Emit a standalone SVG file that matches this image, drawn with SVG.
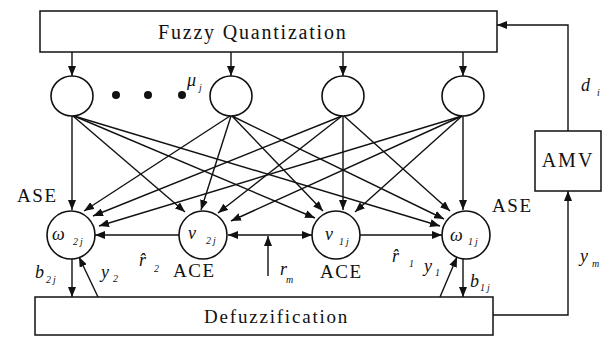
<svg xmlns="http://www.w3.org/2000/svg" width="614" height="340" viewBox="0 0 614 340">
  <style>
    .box { fill: none; stroke: #111; stroke-width: 1.5; }
    .node { fill: #fff; stroke: #111; stroke-width: 1.6; }
    .ln { fill: none; stroke: #111; stroke-width: 1.4; }
    .arr { marker-end: url(#head); }
    .txt { font-family: "Liberation Serif", "Times New Roman", serif; fill: #111; }
    .title { font-size: 20px; letter-spacing: 1.8px; }
    .tag { font-size: 19px; letter-spacing: 1.6px; }
    .var { font-style: italic; font-size: 18px; }
    .sub { font-style: italic; font-size: 10px; letter-spacing: 2px; }
  </style>
  <defs>
    <marker id="head" markerUnits="userSpaceOnUse" markerWidth="10" markerHeight="8" refX="10" refY="4" orient="auto">
      <path d="M0,0 L10,4 L0,8 z" fill="#111"/>
    </marker>
    <marker id="tail" markerUnits="userSpaceOnUse" markerWidth="10" markerHeight="8" refX="0" refY="4" orient="auto">
      <path d="M10,0 L0,4 L10,8 z" fill="#111"/>
    </marker>
  </defs>

  <rect width="614" height="340" fill="#fff"/>

  <!-- blocks -->
  <g id="fuzzy-quantization">
    <rect class="box" x="40" y="11" width="457" height="41"/>
    <text class="txt title" x="158" y="39">Fuzzy Quantization</text>
  </g>
  <g id="defuzzification">
    <rect class="box" x="35" y="297" width="458" height="38"/>
    <text class="txt title" x="204" y="323" style="font-size:19px">Defuzzification</text>
  </g>
  <g id="amv">
    <rect class="box" x="535" y="131" width="66" height="60"/>
    <text class="txt" x="568" y="167" text-anchor="middle" style="font-size:20px;letter-spacing:2px">AMV</text>
  </g>

  <!-- input membership nodes -->
  <g id="mu-1"><ellipse class="node" cx="72" cy="96" rx="21" ry="20"/></g>
  <g id="mu-ellipsis">
    <circle cx="116" cy="95" r="4" fill="#111"/>
    <circle cx="148" cy="95" r="4" fill="#111"/>
    <circle cx="182" cy="95" r="4" fill="#111"/>
  </g>
  <g id="mu-j">
    <ellipse class="node" cx="231" cy="96" rx="21" ry="20"/>
    <text class="txt var" x="187" y="86">μ</text>
    <text class="txt sub" x="199" y="91">j</text>
  </g>
  <g id="mu-3"><ellipse class="node" cx="343" cy="96" rx="21" ry="20"/></g>
  <g id="mu-4"><ellipse class="node" cx="463" cy="96" rx="21" ry="20"/></g>

  <!-- critic / actor nodes -->
  <g id="omega-2j">
    <circle class="node" cx="71" cy="235" r="24"/>
    <text class="txt var" x="52" y="240">ω</text>
    <text class="txt sub" x="73" y="245">2j</text>
    <text class="txt tag" x="17" y="202">ASE</text>
  </g>
  <g id="v-2j">
    <circle class="node" cx="203" cy="235" r="24"/>
    <text class="txt var" x="188" y="239">v</text>
    <text class="txt sub" x="206" y="244">2j</text>
    <text class="txt tag" x="173" y="277">ACE</text>
  </g>
  <g id="v-1j">
    <circle class="node" cx="336" cy="235" r="24"/>
    <text class="txt var" x="325" y="240">v</text>
    <text class="txt sub" x="339" y="245">1j</text>
    <text class="txt tag" x="320" y="278">ACE</text>
  </g>
  <g id="omega-1j">
    <circle class="node" cx="466" cy="235" r="24"/>
    <text class="txt var" x="450" y="241">ω</text>
    <text class="txt sub" x="468" y="245">1j</text>
    <text class="txt tag" x="492" y="212">ASE</text>
  </g>

  <!-- connectors -->
  <g id="connectors">
    <!-- quantization outputs -->
    <line class="ln arr" x1="72" y1="52" x2="72" y2="76"/>
    <line class="ln arr" x1="231" y1="52" x2="231" y2="76"/>
    <line class="ln arr" x1="343" y1="52" x2="343" y2="76"/>
    <line class="ln arr" x1="463" y1="52" x2="463" y2="76"/>

    <!-- from first membership node -->
    <line class="ln arr" x1="72" y1="116" x2="72" y2="210"/>
    <line class="ln arr" x1="73" y1="116" x2="185" y2="212"/>
    <line class="ln arr" x1="74" y1="116" x2="315" y2="218"/>
    <line class="ln arr" x1="74" y1="116" x2="440" y2="226"/>

    <!-- from mu_j -->
    <line class="ln arr" x1="230" y1="116" x2="84" y2="211"/>
    <line class="ln arr" x1="231" y1="116" x2="201" y2="210"/>
    <line class="ln arr" x1="232" y1="116" x2="323" y2="211"/>
    <line class="ln arr" x1="232" y1="116" x2="444" y2="219"/>

    <!-- from third membership node -->
    <line class="ln arr" x1="342" y1="116" x2="93" y2="216"/>
    <line class="ln arr" x1="342" y1="116" x2="218" y2="213"/>
    <line class="ln arr" x1="343" y1="116" x2="343" y2="210"/>
    <line class="ln arr" x1="344" y1="116" x2="450" y2="211"/>

    <!-- from fourth membership node -->
    <line class="ln arr" x1="462" y1="116" x2="99" y2="226"/>
    <line class="ln arr" x1="462" y1="116" x2="231" y2="221"/>
    <line class="ln arr" x1="462" y1="116" x2="355" y2="212"/>
    <line class="ln arr" x1="463" y1="116" x2="463" y2="210"/>

    <!-- internal reinforcement paths -->
    <line class="ln arr" x1="179" y1="235" x2="95" y2="235"/>
    <line class="ln arr" x1="228" y1="235" x2="312" y2="235" marker-start="url(#tail)"/>
    <line class="ln arr" x1="360" y1="235" x2="442" y2="235"/>
    <line class="ln arr" x1="268" y1="276" x2="268" y2="236"/>

    <!-- actor outputs / defuzzified feedback -->
    <line class="ln arr" x1="72" y1="259" x2="72" y2="297"/>
    <line class="ln arr" x1="98" y1="297" x2="79" y2="257"/>
    <line class="ln arr" x1="440" y1="297" x2="457" y2="257"/>
    <line class="ln arr" x1="463" y1="259" x2="463" y2="297"/>

    <!-- outer loop through AMV -->
    <polyline class="ln arr" points="493,315 568,315 568,191"/>
    <polyline class="ln arr" points="568,131 568,25 497,25"/>
  </g>

  <!-- signal labels -->
  <g id="labels">
    <text class="txt var" x="139" y="266">r̂</text>
    <text class="txt sub" x="154" y="272">2</text>
    <text class="txt var" x="392" y="262">r̂</text>
    <text class="txt sub" x="409" y="267">1</text>
    <text class="txt var" x="280" y="275">r</text>
    <text class="txt sub" x="286" y="283">m</text>
    <text class="txt var" x="35" y="278">b</text>
    <text class="txt sub" x="46" y="283">2j</text>
    <text class="txt var" x="101" y="278">y</text>
    <text class="txt sub" x="113" y="282">2</text>
    <text class="txt var" x="424" y="272">y</text>
    <text class="txt sub" x="435" y="276">1</text>
    <text class="txt var" x="470" y="287">b</text>
    <text class="txt sub" x="480" y="291">1j</text>
    <text class="txt var" x="581" y="91">d</text>
    <text class="txt sub" x="597" y="96">i</text>
    <text class="txt var" x="580" y="262">y</text>
    <text class="txt sub" x="592" y="267">m</text>
  </g>
</svg>
